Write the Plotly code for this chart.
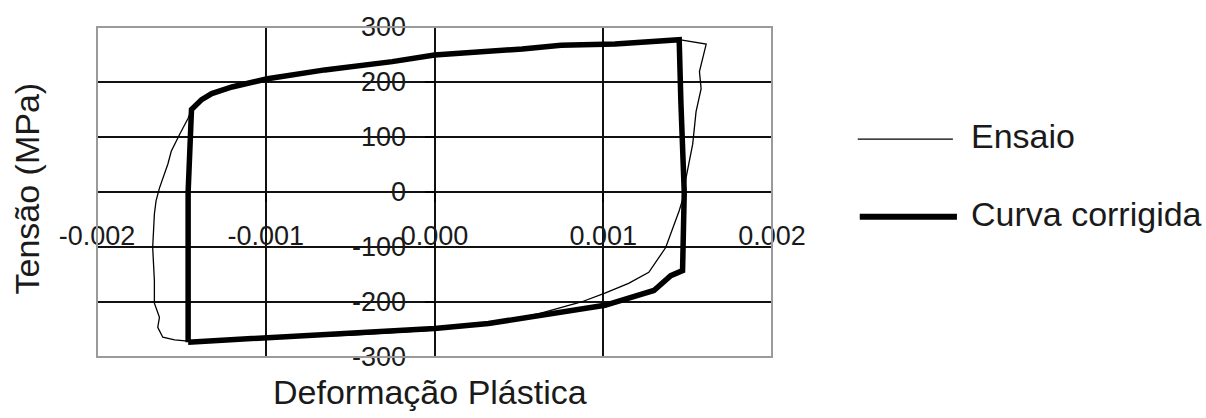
import plotly.graph_objects as go

# Plastic strain vs stress loop: test data ("Ensaio") and corrected curve
ensaio_strain = [
    -0.00146, -0.00144, -0.00138, -0.00132, -0.00120, -0.00099, -0.00065, -0.00025,
    0.0, 0.00024, 0.00052, 0.00075, 0.00107, 0.00145, 0.00161,
    0.00160, 0.00157, 0.00158, 0.00155, 0.00153, 0.00151, 0.00149, 0.00148,
    0.00145, 0.00137, 0.00127, 0.00115, 0.00101, 0.00087, 0.00062, 0.00032,
    0.0, -0.00049, -0.00107, -0.00146, -0.00154, -0.00161, -0.00164, -0.00163,
    -0.00166, -0.00166, -0.00167, -0.00166, -0.00165, -0.00163, -0.00158, -0.00156,
    -0.00151, -0.00148, -0.00146,
]
ensaio_stress = [
    134, 150, 168, 179, 192, 206, 222, 237,
    249, 255, 260, 267, 269, 277, 269,
    255, 219, 188, 146, 87, 56, 25, -4,
    -34, -101, -146, -166, -184, -200, -221, -239,
    -251, -260, -267, -271, -269, -264, -246, -228,
    -202, -161, -101, -40, -16, 7, 51, 74,
    105, 123, 134,
]

corrigida_strain = [
    -0.00146, -0.00107, -0.00073, 0.0, 0.00032, 0.00071, 0.00101, 0.00130,
    0.00140, 0.00147, 0.00148, 0.00146, 0.00145,
    0.00107, 0.00075, 0.00052, 0.00024, 0.0, -0.00025, -0.00065, -0.00099,
    -0.00120, -0.00132, -0.00138, -0.00144, -0.00146, -0.00146,
]
corrigida_stress = [
    -273, -266, -260, -248, -239, -221, -206, -179,
    -152, -143, 0, 164, 277,
    269, 267, 260, 255, 249, 237, 222, 206,
    191, 179, 168, 150, 0, -273,
]

x_ticks = [-0.002, -0.001, 0.0, 0.001, 0.002]
x_tick_labels = ["-0.002", "-0.001", "0.000", "0.001", "0.002"]
y_ticks = [-300, -200, -100, 0, 100, 200, 300]
y_tick_labels = ["-300", "-200", "-100", "0", "100", "200", "300"]

series_names = ["Ensaio", "Curva corrigida"]
x_title = "Deformação Plástica"
y_title = "Tensão (MPa)"

FONT = "Liberation Sans, Arial, sans-serif"
TICK_SIZE = 27
TEXT_SIZE = 34
TEXT_COLOR = "#1a1a1a"

fig = go.Figure()
fig.add_trace(go.Scatter(
    x=ensaio_strain, y=ensaio_stress, mode="lines", name=series_names[0],
    line=dict(color="black", width=1.3), showlegend=False,
))
fig.add_trace(go.Scatter(
    x=corrigida_strain, y=corrigida_stress, mode="lines", name=series_names[1],
    line=dict(color="black", width=5.5), showlegend=False,
))

# Axes cross at the origin: both axes are free-positioned at the centre
fig.update_xaxes(
    range=[-0.002, 0.002], tickvals=x_ticks, ticktext=x_tick_labels,
    anchor="free", position=0.5, side="bottom",
    ticks="outside", ticklen=9, tickwidth=1.5, tickcolor="black",
    ticklabelstandoff=11,
    showgrid=True, gridcolor="#111", gridwidth=1.8,
    zeroline=True, zerolinecolor="#111", zerolinewidth=1.8,
    showline=False, tickfont=dict(family=FONT, size=TICK_SIZE, color=TEXT_COLOR),
)
fig.update_yaxes(
    range=[-300, 300], tickvals=y_ticks, ticktext=y_tick_labels,
    anchor="free", position=0.5, side="left",
    ticks="outside", ticklen=10, tickwidth=1.5, tickcolor="black",
    ticklabelstandoff=13,
    showgrid=True, gridcolor="#111", gridwidth=1.8,
    zeroline=True, zerolinecolor="#111", zerolinewidth=1.8,
    showline=False, tickfont=dict(family=FONT, size=TICK_SIZE, color=TEXT_COLOR),
)

shapes = [
    # plot-area frame
    dict(type="rect", xref="x domain", yref="y domain", x0=0, x1=1, y0=0, y1=1,
         line=dict(color="#9a9a9a", width=2), layer="above"),
    # legend samples
    dict(type="line", xref="paper", yref="paper", x0=1.127, x1=1.268, y0=0.660, y1=0.660,
         line=dict(color="black", width=1.3)),
    dict(type="line", xref="paper", yref="paper", x0=1.130, x1=1.274, y0=0.425, y1=0.425,
         line=dict(color="black", width=6)),
]

annotations = [
    dict(text=x_title, xref="paper", yref="paper", x=0.493, y=-0.105,
         xanchor="center", yanchor="middle", showarrow=False,
         font=dict(family=FONT, size=TEXT_SIZE, color=TEXT_COLOR)),
    dict(text=y_title, xref="paper", yref="paper", x=-0.104, y=0.51, textangle=-90,
         xanchor="center", yanchor="middle", showarrow=False,
         font=dict(family=FONT, size=TEXT_SIZE, color=TEXT_COLOR)),
    dict(text=series_names[0], xref="paper", yref="paper", x=1.292, y=0.669,
         xanchor="left", yanchor="middle", showarrow=False,
         font=dict(family=FONT, size=TEXT_SIZE, color=TEXT_COLOR)),
    dict(text=series_names[1], xref="paper", yref="paper", x=1.292, y=0.434,
         xanchor="left", yanchor="middle", showarrow=False,
         font=dict(family=FONT, size=TEXT_SIZE, color=TEXT_COLOR)),
]

fig.update_layout(
    width=1206, height=418, autosize=False,
    margin=dict(l=97, r=434, t=25, b=61),
    paper_bgcolor="white", plot_bgcolor="white",
    shapes=shapes, annotations=annotations,
    showlegend=False,
)

fig.write_html("out.html")
